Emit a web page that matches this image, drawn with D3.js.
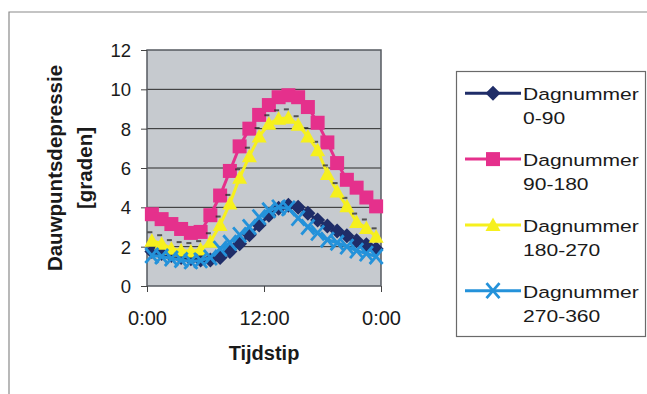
<!DOCTYPE html>
<html>
<head>
<meta charset="utf-8">
<script src="https://cdn.jsdelivr.net/npm/d3@7/dist/d3.min.js"></script>
<style>
  html, body { margin: 0; padding: 0; background: #ffffff; }
  svg { display: block; }
  text { font-family: "Liberation Sans", Arial, sans-serif; fill: #1a1a1a; }
</style>
</head>
<body>
<svg id="chart" width="647" height="394"></svg>
<script>
// Hourly averages (mid-hour) of dew point depression, per quarter of the year
const hours = [0.5, 1.5, 2.5, 3.5, 4.5, 5.5, 6.5, 7.5, 8.5, 9.5, 10.5, 11.5,
               12.5, 13.5, 14.5, 15.5, 16.5, 17.5, 18.5, 19.5, 20.5, 21.5, 22.5, 23.5];

const dag0_90    = [1.75, 1.65, 1.55, 1.45, 1.38, 1.32, 1.32, 1.45, 1.75, 2.15, 2.6, 3.1,
                    3.6, 3.95, 4.1, 4.0, 3.7, 3.35, 3.05, 2.8, 2.55, 2.3, 2.1, 1.9];
const dag90_180  = [3.65, 3.4, 3.15, 2.9, 2.7, 2.75, 3.6, 4.6, 5.85, 7.1, 8.0, 8.7,
                    9.2, 9.6, 9.7, 9.6, 9.1, 8.3, 7.3, 6.25, 5.4, 5.0, 4.5, 4.05];
const dag180_270 = [2.3, 2.15, 1.9, 1.8, 1.75, 1.85, 2.25, 3.1, 4.2, 5.5, 6.6, 7.6,
                    8.25, 8.5, 8.55, 8.2, 7.6, 6.9, 5.7, 4.8, 4.05, 3.25, 2.95, 2.5];
const dag270_360 = [1.55, 1.5, 1.4, 1.32, 1.25, 1.3, 1.45, 1.9, 2.2, 2.6, 3.0, 3.5,
                    3.85, 4.0, 3.95, 3.45, 3.0, 2.7, 2.35, 2.2, 2.0, 1.8, 1.65, 1.5];

const seriesLabels = [["Dagnummer", "0-90"], ["Dagnummer", "90-180"],
                      ["Dagnummer", "180-270"], ["Dagnummer", "270-360"]];
const seriesColors = ["#1f2d68", "#e5308c", "#f6f01e", "#2492da"];
const seriesMarkers = ["diamond", "square", "triangle", "cross"];

const yTicks = [0, 2, 4, 6, 8, 10, 12];
const xTicks = [0, 12, 24];
const xTickLabels = ["0:00", "12:00", "0:00"];
const yTitle = ["Dauwpuntsdepressie", "[graden]"];
const xTitle = "Tijdstip";

const allSeries = [dag0_90, dag90_180, dag180_270, dag270_360];

const svg = d3.select("#chart");

// outer chart frame (top and left edges)
svg.append("path")
  .attr("d", "M9,394V12H647")
  .attr("fill", "none")
  .attr("stroke", "#8a8a8a")
  .attr("stroke-width", 1.2);

const x = d3.scaleLinear().domain([0, 24]).range([147, 381]);
const y = d3.scaleLinear().domain([0, 12]).range([286, 50]);

// plot area background
svg.append("rect")
  .attr("x", x(0)).attr("y", y(12))
  .attr("width", x(24) - x(0)).attr("height", y(0) - y(12))
  .attr("fill", "#c6cacf");

// horizontal gridlines
svg.append("g").selectAll("line")
  .data(yTicks.filter(v => v > 0 && v < 12))
  .join("line")
  .attr("x1", x(0)).attr("x2", x(24))
  .attr("y1", d => y(d)).attr("y2", d => y(d))
  .attr("stroke", "#2a2a2a").attr("stroke-width", 1);

// plot area border
svg.append("rect")
  .attr("x", x(0)).attr("y", y(12))
  .attr("width", x(24) - x(0)).attr("height", y(0) - y(12))
  .attr("fill", "none")
  .attr("stroke", "#555a60").attr("stroke-width", 1.5);

// axes
const yAxis = svg.append("g")
  .attr("transform", `translate(${x(0)},0)`)
  .call(d3.axisLeft(y).tickValues(yTicks).tickSize(6).tickPadding(10).tickFormat(d3.format("d")));
yAxis.select(".domain").remove();
yAxis.selectAll("line").attr("stroke", "#444");
yAxis.selectAll("text").style("font-size", "18.5px").attr("fill", "#1a1a1a").attr("dy", "0.35em");

const xAxis = svg.append("g")
  .attr("transform", `translate(0,${y(0)})`)
  .call(d3.axisBottom(x).tickValues(xTicks).tickSize(6).tickFormat((d, i) => xTickLabels[i]));
xAxis.select(".domain").remove();
xAxis.selectAll("line").attr("stroke", "#444");
xAxis.selectAll("text").style("font-size", "20px").attr("fill", "#1a1a1a")
  .attr("y", 39).attr("dy", null);

// axis titles
const yt = svg.append("text")
  .attr("transform", "translate(62,168) rotate(-90)")
  .attr("text-anchor", "middle")
  .style("font-size", "20.5px").style("font-weight", "bold");
yt.append("tspan").attr("x", 0).attr("y", 0).text(yTitle[0]);
yt.append("tspan").attr("x", 0).attr("y", 30).text(yTitle[1]);

svg.append("text")
  .attr("x", x(12)).attr("y", 360)
  .attr("text-anchor", "middle")
  .style("font-size", "20px").style("font-weight", "bold")
  .text(xTitle);

// marker shapes
function drawMarker(g, type, color) {
  if (type === "diamond") {
    g.append("path").attr("d", "M0,-7.5L7.5,0L0,7.5L-7.5,0Z").attr("fill", color);
  } else if (type === "square") {
    g.append("rect").attr("x", -7).attr("y", -7).attr("width", 14).attr("height", 14).attr("fill", color);
  } else if (type === "triangle") {
    g.append("path").attr("d", "M0,-7.5L7.5,6L-7.5,6Z").attr("fill", color);
  } else if (type === "cross") {
    g.append("path").attr("d", "M-6.5,-7.5L6.5,7.5M-6.5,7.5L6.5,-7.5")
      .attr("stroke", color).attr("stroke-width", 2.8).attr("fill", "none");
  }
}

const line = d3.line().x((d, i) => x(hours[i])).y(d => y(d));

allSeries.forEach((vals, s) => {
  const g = svg.append("g");
  g.append("path")
    .datum(vals)
    .attr("d", line)
    .attr("fill", "none")
    .attr("stroke", seriesColors[s])
    .attr("stroke-width", 3);
  if (seriesMarkers[s] === "triangle") {
    // dark print edge above each triangle
    g.selectAll("rect.edge").data(vals).join("rect")
      .attr("class", "edge")
      .attr("x", (d, i) => x(hours[i]) - 4.5)
      .attr("y", d => y(d) - 9.5)
      .attr("width", 5).attr("height", 2)
      .attr("fill", "#2a2a2a").attr("opacity", 0.75);
  }
  vals.forEach((v, i) => {
    const m = g.append("g").attr("transform", `translate(${x(hours[i])},${y(v)})`);
    drawMarker(m, seriesMarkers[s], seriesColors[s]);
  });
});

// legend
const legend = svg.append("g");
legend.append("rect")
  .attr("x", 456.5).attr("y", 71.5)
  .attr("width", 189).attr("height", 265)
  .attr("fill", "#ffffff")
  .attr("stroke", "#6a6a6a").attr("stroke-width", 1.2);

seriesLabels.forEach((lab, s) => {
  const cy = 93.3 + s * 65.8;
  legend.append("line")
    .attr("x1", 465).attr("x2", 521)
    .attr("y1", cy).attr("y2", cy)
    .attr("stroke", seriesColors[s]).attr("stroke-width", 3);
  const m = legend.append("g").attr("transform", `translate(493,${cy})`);
  drawMarker(m, seriesMarkers[s], seriesColors[s]);
  lab.forEach((t, k) => {
    legend.append("text")
      .attr("transform", `translate(523,${cy + 6.8 + k * 24}) scale(1.24,1)`)
      .style("font-size", "17px")
      .text(t);
  });
});
</script>
</body>
</html>
